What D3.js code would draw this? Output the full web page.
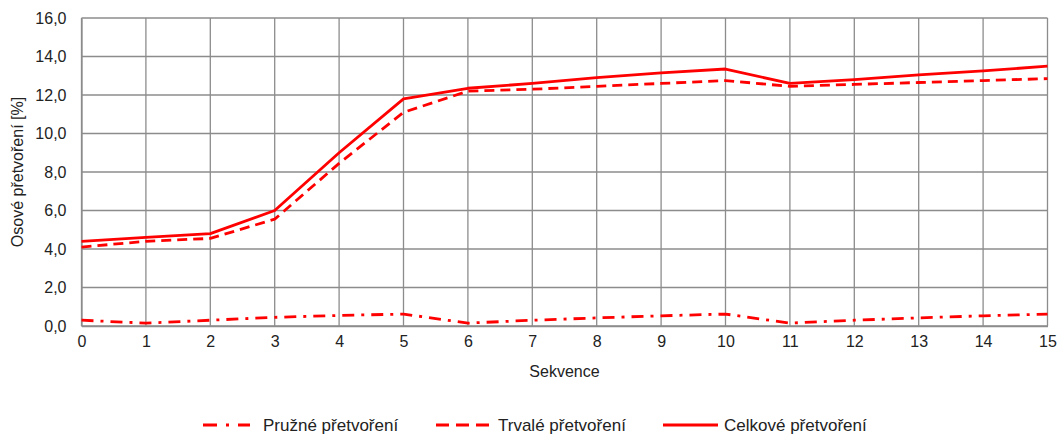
<!DOCTYPE html>
<html><head><meta charset="utf-8">
<script src="https://cdn.jsdelivr.net/npm/d3@7"></script>
<style>
body{margin:0;background:#fff;}
svg{display:block;font-family:"Liberation Sans",Arial,sans-serif;}
</style></head>
<body><svg id="c" width="1061" height="434"></svg>
<script>
const sequences = d3.range(0, 16);
const yTicks = [0, 2, 4, 6, 8, 10, 12, 14, 16];
const seriesNames = ["Pružné přetvoření", "Trvalé přetvoření", "Celkové přetvoření"];
const pruzne = [0.3, 0.15, 0.3, 0.45, 0.55, 0.62, 0.15, 0.3, 0.42, 0.53, 0.62, 0.15, 0.3, 0.42, 0.53, 0.62];
const trvale = [4.1, 4.4, 4.55, 5.55, 8.45, 11.1, 12.2, 12.3, 12.45, 12.6, 12.75, 12.45, 12.55, 12.65, 12.75, 12.85];
const celkove = [4.4, 4.6, 4.8, 6.0, 9.0, 11.8, 12.35, 12.6, 12.9, 13.15, 13.35, 12.6, 12.8, 13.05, 13.25, 13.5];
const xTitle = "Sekvence";
const yTitle = "Osové přetvoření [%]";

const svg = d3.select("#c");
const m = {l: 81.5, r: 1047.5, t: 18, b: 326};
const x = d3.scaleLinear().domain([0, 15]).range([m.l, m.r]);
const y = d3.scaleLinear().domain([0, 16]).range([m.b, m.t]);
const fs = 16;
const grid = "#8c8c8c";

// gridlines
svg.append("g").selectAll("line").data(yTicks).join("line")
  .attr("x1", m.l).attr("x2", m.r).attr("y1", d => y(d)).attr("y2", d => y(d))
  .attr("stroke", grid).attr("stroke-width", 1.3);
svg.append("g").selectAll("line").data(sequences).join("line")
  .attr("x1", d => x(d)).attr("x2", d => x(d)).attr("y1", m.t).attr("y2", m.b)
  .attr("stroke", grid).attr("stroke-width", 1.3);

// axes
const yAxis = d3.axisLeft(y).tickValues(yTicks).tickSize(0).tickPadding(15)
  .tickFormat(d => d3.format(".1f")(d).replace(".", ","));
const gy = svg.append("g").attr("transform", `translate(${m.l},0)`).call(yAxis);
gy.select(".domain").attr("stroke", grid).attr("stroke-width", 1.3);
gy.selectAll("text").attr("font-size", fs).attr("fill", "#222").attr("font-family", "Liberation Sans, Arial, sans-serif");

const xAxis = d3.axisBottom(x).tickValues(sequences).tickSize(0).tickPadding(10).tickFormat(d3.format("d"));
const gx = svg.append("g").attr("transform", `translate(0,${m.b})`).call(xAxis);
gx.select(".domain").attr("stroke", grid).attr("stroke-width", 1.3);
gx.selectAll("text").attr("font-size", fs).attr("fill", "#222").attr("font-family", "Liberation Sans, Arial, sans-serif");

// titles
svg.append("text").attr("x", (m.l + m.r) / 2).attr("y", 377).attr("text-anchor", "middle")
  .attr("font-size", fs).attr("fill", "#222").text(xTitle);
svg.append("text").attr("transform", `translate(23,${(m.t + m.b) / 2}) rotate(-90)`)
  .attr("text-anchor", "middle").attr("font-size", fs).attr("fill", "#222").text(yTitle);

// lines
const dashes = ["12,7,3,7", "10,6", null];
const legDashes = ["14,9,3,9", "13,7", null];
const data = [pruzne, trvale, celkove];
const line = d3.line().x((d, i) => x(sequences[i])).y(d => y(d));
data.forEach((s, k) => {
  svg.append("path").datum(s).attr("d", line).attr("fill", "none")
    .attr("stroke", "#ff0000").attr("stroke-width", 2.8)
    .attr("stroke-linejoin", "round")
    .attr("stroke-dasharray", dashes[k]);
});

// legend
const legX = [[203, 250, 263], [436, 493, 498], [663, 718, 724]];
const legY = 425;
seriesNames.forEach((n, k) => {
  svg.append("line").attr("x1", legX[k][0]).attr("x2", legX[k][1]).attr("y1", legY).attr("y2", legY)
    .attr("stroke", "#ff0000").attr("stroke-width", 2.8).attr("stroke-dasharray", legDashes[k]);
  svg.append("text").attr("x", legX[k][2]).attr("y", legY).attr("dy", "0.35em")
    .attr("font-size", 17).attr("fill", "#222").text(n);
});
</script></body></html>
